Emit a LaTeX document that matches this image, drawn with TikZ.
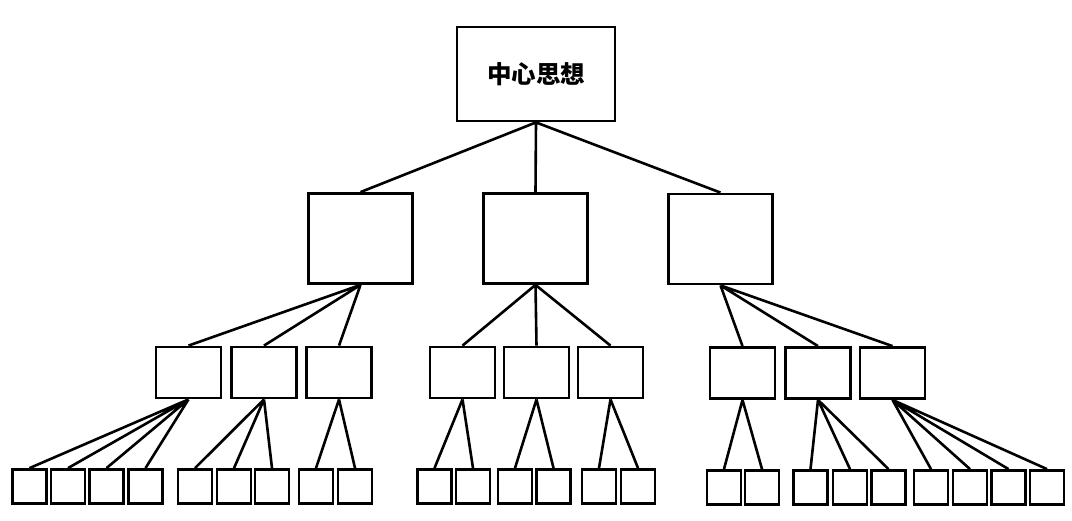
\documentclass[tikz,border=0pt]{standalone}
\usepackage{fontspec}
\usepackage{tikz}
\usetikzlibrary{positioning}
\newfontfamily\cjk{Noto Sans CJK SC}

\begin{document}
\begin{tikzpicture}[
  x=1pt, y=-1pt,
  ideabox/.style={draw, line width=2.8pt, minimum width=158pt, minimum height=94pt, inner sep=0pt, font=\cjk\bfseries\fontsize{24.5}{28}\selectfont},
  topicbox/.style={draw, line width=2.8pt, minimum width=104pt, minimum height=90pt, inner sep=0pt},
  pointbox/.style={draw, line width=2.8pt, minimum width=65pt, minimum height=51pt, inner sep=0pt},
  leafbox/.style={draw, line width=2.8pt, minimum width=34pt, minimum height=34pt, inner sep=0pt},
  stline/.style={line width=2.6pt}
]
\useasboundingbox (0,0) rectangle (1072,520);
\node[ideabox] (idea) at (536,74) {中心思想};
% second level
\node[topicbox] (topic1) at (360.5,238.5) {};
\node[topicbox] (topic2) at (535.5,238.5) {};
\node[topicbox] (topic3) at (720.5,239) {};
% third level
\node[pointbox] (t1a) at (188.5,372.5) {};
\node[pointbox] (t1b) at (264,372.5) {};
\node[pointbox] (t1c) at (339,372.5) {};
\node[pointbox] (t2a) at (462.5,372.5) {};
\node[pointbox] (t2b) at (536.5,372.5) {};
\node[pointbox] (t2c) at (610.5,372.5) {};
\node[pointbox] (t3a) at (742.5,373) {};
\node[pointbox] (t3b) at (818,373) {};
\node[pointbox] (t3c) at (892.5,373) {};
% leaves
\node[leafbox] (t1a1) at (29.5,486.5) {};
\node[leafbox] (t1a2) at (68,486.5) {};
\node[leafbox] (t1a3) at (106.5,486.5) {};
\node[leafbox] (t1a4) at (145.5,486.5) {};
\node[leafbox] (t1b1) at (195,486.5) {};
\node[leafbox] (t1b2) at (234,486.5) {};
\node[leafbox] (t1b3) at (272,486.5) {};
\node[leafbox] (t1c1) at (316,486.5) {};
\node[leafbox] (t1c2) at (355,486.5) {};
\node[leafbox] (t2a1) at (434.5,486.5) {};
\node[leafbox] (t2a2) at (473,486.5) {};
\node[leafbox] (t2b1) at (515,486.5) {};
\node[leafbox] (t2b2) at (553.5,486.5) {};
\node[leafbox] (t2c1) at (599,486.5) {};
\node[leafbox] (t2c2) at (638,486.5) {};
\node[leafbox] (t3a1) at (724,487.5) {};
\node[leafbox] (t3a2) at (762,487.5) {};
\node[leafbox] (t3b1) at (810.5,487.5) {};
\node[leafbox] (t3b2) at (850,487.5) {};
\node[leafbox] (t3b3) at (888.5,487.5) {};
\node[leafbox] (t3c1) at (931,487.5) {};
\node[leafbox] (t3c2) at (970,487.5) {};
\node[leafbox] (t3c3) at (1008.5,487.5) {};
\node[leafbox] (t3c4) at (1047,487.5) {};
% connectors
\draw[stline] (idea.south) -- (topic1.north) (idea.south) -- (topic2.north) (idea.south) -- (topic3.north);
\draw[stline] (topic1.south) -- (t1a.north) (topic1.south) -- (t1b.north) (topic1.south) -- (t1c.north);
\draw[stline] (topic2.south) -- (t2a.north) (topic2.south) -- (t2b.north) (topic2.south) -- (t2c.north);
\draw[stline] (topic3.south) -- (t3a.north) (topic3.south) -- (t3b.north) (topic3.south) -- (t3c.north);
\draw[stline] (t1a.south) -- (t1a1.north) (t1a.south) -- (t1a2.north) (t1a.south) -- (t1a3.north) (t1a.south) -- (t1a4.north);
\draw[stline] (t1b.south) -- (t1b1.north) (t1b.south) -- (t1b2.north) (t1b.south) -- (t1b3.north);
\draw[stline] (t1c.south) -- (t1c1.north) (t1c.south) -- (t1c2.north);
\draw[stline] (t2a.south) -- (t2a1.north) (t2a.south) -- (t2a2.north);
\draw[stline] (t2b.south) -- (t2b1.north) (t2b.south) -- (t2b2.north);
\draw[stline] (t2c.south) -- (t2c1.north) (t2c.south) -- (t2c2.north);
\draw[stline] (t3a.south) -- (t3a1.north) (t3a.south) -- (t3a2.north);
\draw[stline] (t3b.south) -- (t3b1.north) (t3b.south) -- (t3b2.north) (t3b.south) -- (t3b3.north);
\draw[stline] (t3c.south) -- (t3c1.north) (t3c.south) -- (t3c2.north) (t3c.south) -- (t3c3.north) (t3c.south) -- (t3c4.north);
\end{tikzpicture}
\end{document}
